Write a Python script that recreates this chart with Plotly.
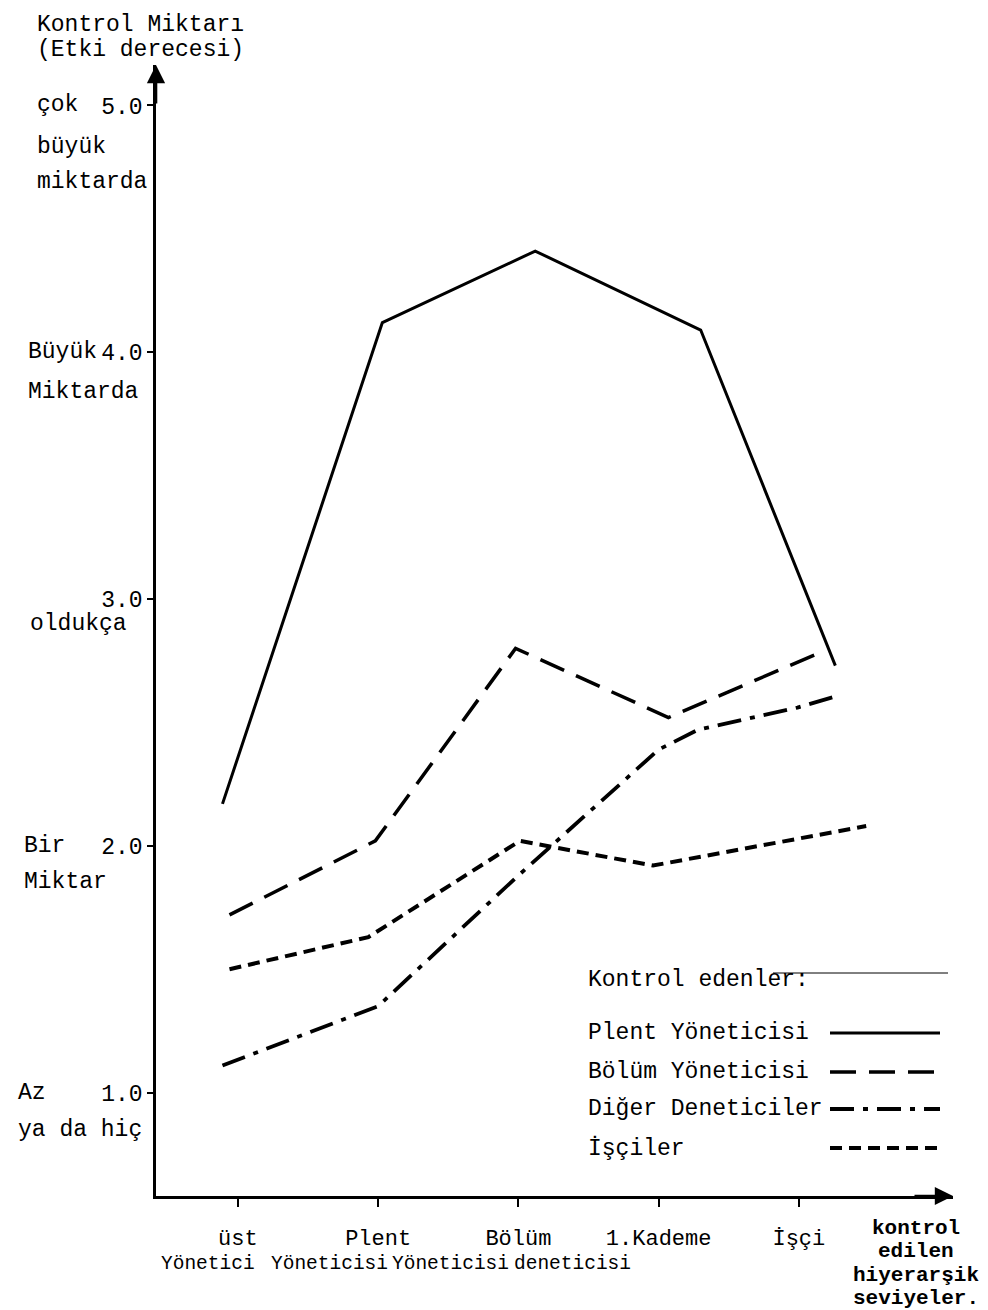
import plotly.graph_objects as go

# ---------------- data ----------------
categories = ["üst Yönetici", "Plent Yöneticisi", "Bölüm Yöneticisi", "1.Kademe deneticisi", "İşçi"]
cat_pos = [1, 2, 3, 4, 5]

series_names = ["Plent Yöneticisi", "Bölüm Yöneticisi", "Diğer Deneticiler", "İşçiler"]

plent_x = [0.89, 2.03, 3.12, 4.30, 5.26]
plent_y = [2.17, 4.12, 4.41, 4.09, 2.73]

bolum_x = [0.94, 1.98, 2.98, 4.07, 5.18]
bolum_y = [1.72, 2.02, 2.80, 2.52, 2.79]

diger_x = [0.89, 2.00, 3.00, 4.00, 4.28, 4.99, 5.29]
diger_y = [1.11, 1.35, 1.88, 2.39, 2.47, 2.56, 2.61]

isci_x = [0.94, 1.93, 3.01, 3.96, 5.48]
isci_y = [1.50, 1.63, 2.02, 1.92, 2.08]

y_ticks = [1.0, 2.0, 3.0, 4.0, 5.0]
y_tick_labels = ["1.0", "2.0", "3.0", "4.0", "5.0"]
level_words = [["Az", "ya da hiç"], ["Bir", "Miktar"], ["", "oldukça"],
               ["Büyük", "Miktarda"], ["çok", "büyük", "miktarda"]]

y_title_lines = ["Kontrol Miktarı", "(Etki derecesi)"]
x_title_lines = ["kontrol", "edilen", "hiyerarşik", "seviyeler."]
legend_title = "Kontrol edenler:"

# ---------------- styling ----------------
FONT = "Liberation Mono"
W, H = 988, 1310
ML, MR, MT, MB = 148, 43, 57, 122
PW, PH = W - ML - MR, H - MT - MB

def pxx(x):
    return (x - ML) / PW

def pxy(y):
    return (H - MB - y) / PH

styles = [
    dict(color="black", width=3.0, dash="solid"),
    dict(color="black", width=3.5, dash="26px,13px"),
    dict(color="black", width=3.8, dash="24px,9px,5px,9px"),
    dict(color="black", width=4.0, dash="12px,7px"),
]

fig = go.Figure()
for name, xs, ys, st in zip(series_names,
                            [plent_x, bolum_x, diger_x, isci_x],
                            [plent_y, bolum_y, diger_y, isci_y],
                            styles):
    fig.add_trace(go.Scatter(x=xs, y=ys, mode="lines", name=name,
                             line=st, showlegend=False))

annotations = []
shapes = []

# y axis title (top-left)
for i, (txt, xp) in enumerate(zip(y_title_lines, [27, 27])):
    annotations.append(dict(text=txt, xref="paper", yref="paper",
                            x=pxx(xp), y=pxy(17 + 25 * i), xanchor="left",
                            yanchor="middle", showarrow=False,
                            font=dict(family=FONT, size=23, color="black")))

# level descriptors next to the y ticks
desc_x = [8, 14, 20, 18, 27]
desc_shift = [[0, -37], [0, -36], [0, -25], [0, -40], [0, -42, -77]]
for v, words, xp, shifts in zip(y_ticks, level_words, desc_x, desc_shift):
    for w, s in zip(words, shifts):
        if not w:
            continue
        annotations.append(dict(text=w, xref="paper", yref="y", x=pxx(xp), y=v,
                                yshift=s, xanchor="left", yanchor="middle",
                                showarrow=False,
                                font=dict(family=FONT, size=23, color="black")))

# second line of x category labels
line2_shift = [-30, -49, -68, -86, 0]
for c, pos, s in zip(categories, cat_pos, line2_shift):
    parts = c.split(" ", 1)
    if len(parts) > 1:
        annotations.append(dict(text=parts[1], xref="x", yref="paper", x=pos, y=0,
                                xshift=s, yshift=-68, xanchor="center",
                                yanchor="middle", showarrow=False,
                                font=dict(family=FONT, size=19.5, color="black")))

# x axis title (right of the categories)
for i, txt in enumerate(x_title_lines):
    annotations.append(dict(text=txt, xref="paper", yref="paper",
                            x=pxx(908), y=pxy(1220 + 23.5 * i), xanchor="center",
                            yanchor="middle", showarrow=False,
                            font=dict(family=FONT, size=21, color="black",
                                      weight="bold")))

# axis arrow heads
annotations.append(dict(x=0, y=1, xref="paper", yref="paper", ax=0, ay=40,
                        text="", showarrow=True,
                        arrowhead=2, arrowsize=1.4, arrowwidth=2.6,
                        arrowcolor="black"))
annotations.append(dict(x=1, y=0, xref="paper", yref="paper", ax=-40, ay=0,
                        text="", showarrow=True, arrowhead=2, arrowsize=1.4,
                        arrowwidth=2.6, arrowcolor="black"))

# custom legend (text left, line sample right)
annotations.append(dict(text=legend_title, xref="paper", yref="paper",
                        x=pxx(578), y=pxy(972), xanchor="left", yanchor="middle",
                        showarrow=False,
                        font=dict(family=FONT, size=23, color="black")))
shapes.append(dict(type="line", xref="paper", yref="paper",
                   x0=pxx(765), x1=pxx(940), y0=pxy(965), y1=pxy(965),
                   line=dict(color="black", width=1)))
leg_y = [1025, 1064, 1101, 1140]
for name, st, ly in zip(series_names, styles, leg_y):
    annotations.append(dict(text=name, xref="paper", yref="paper",
                            x=pxx(578), y=pxy(ly), xanchor="left",
                            yanchor="middle", showarrow=False,
                            font=dict(family=FONT, size=23, color="black")))
    shapes.append(dict(type="line", xref="paper", yref="paper",
                       x0=pxx(822), x1=pxx(932), y0=pxy(ly), y1=pxy(ly),
                       line=st))

fig.update_layout(
    width=W, height=H, autosize=False,
    margin=dict(l=ML, r=MR, t=MT, b=MB),
    paper_bgcolor="white", plot_bgcolor="white",
    font=dict(family=FONT, size=22, color="black"),
    annotations=annotations, shapes=shapes,
    xaxis=dict(range=[0.416, 6.099], tickvals=cat_pos,
               ticktext=[c.split(" ", 1)[0] for c in categories],
               showgrid=False, zeroline=False, showline=True,
               linecolor="black", linewidth=2.6, ticks="outside",
               ticklen=8, tickwidth=2.4, tickcolor="black",
               ticklabelstandoff=12,
               tickfont=dict(family=FONT, size=22, color="black")),
    yaxis=dict(range=[0.581, 5.164], tickvals=y_ticks, ticktext=y_tick_labels,
               showgrid=False, zeroline=False, showline=True,
               linecolor="black", linewidth=2.6, ticks="outside",
               ticklen=6, tickwidth=2.4, tickcolor="black",
               tickfont=dict(family=FONT, size=23, color="black")),
)

fig.write_html("out.html")
